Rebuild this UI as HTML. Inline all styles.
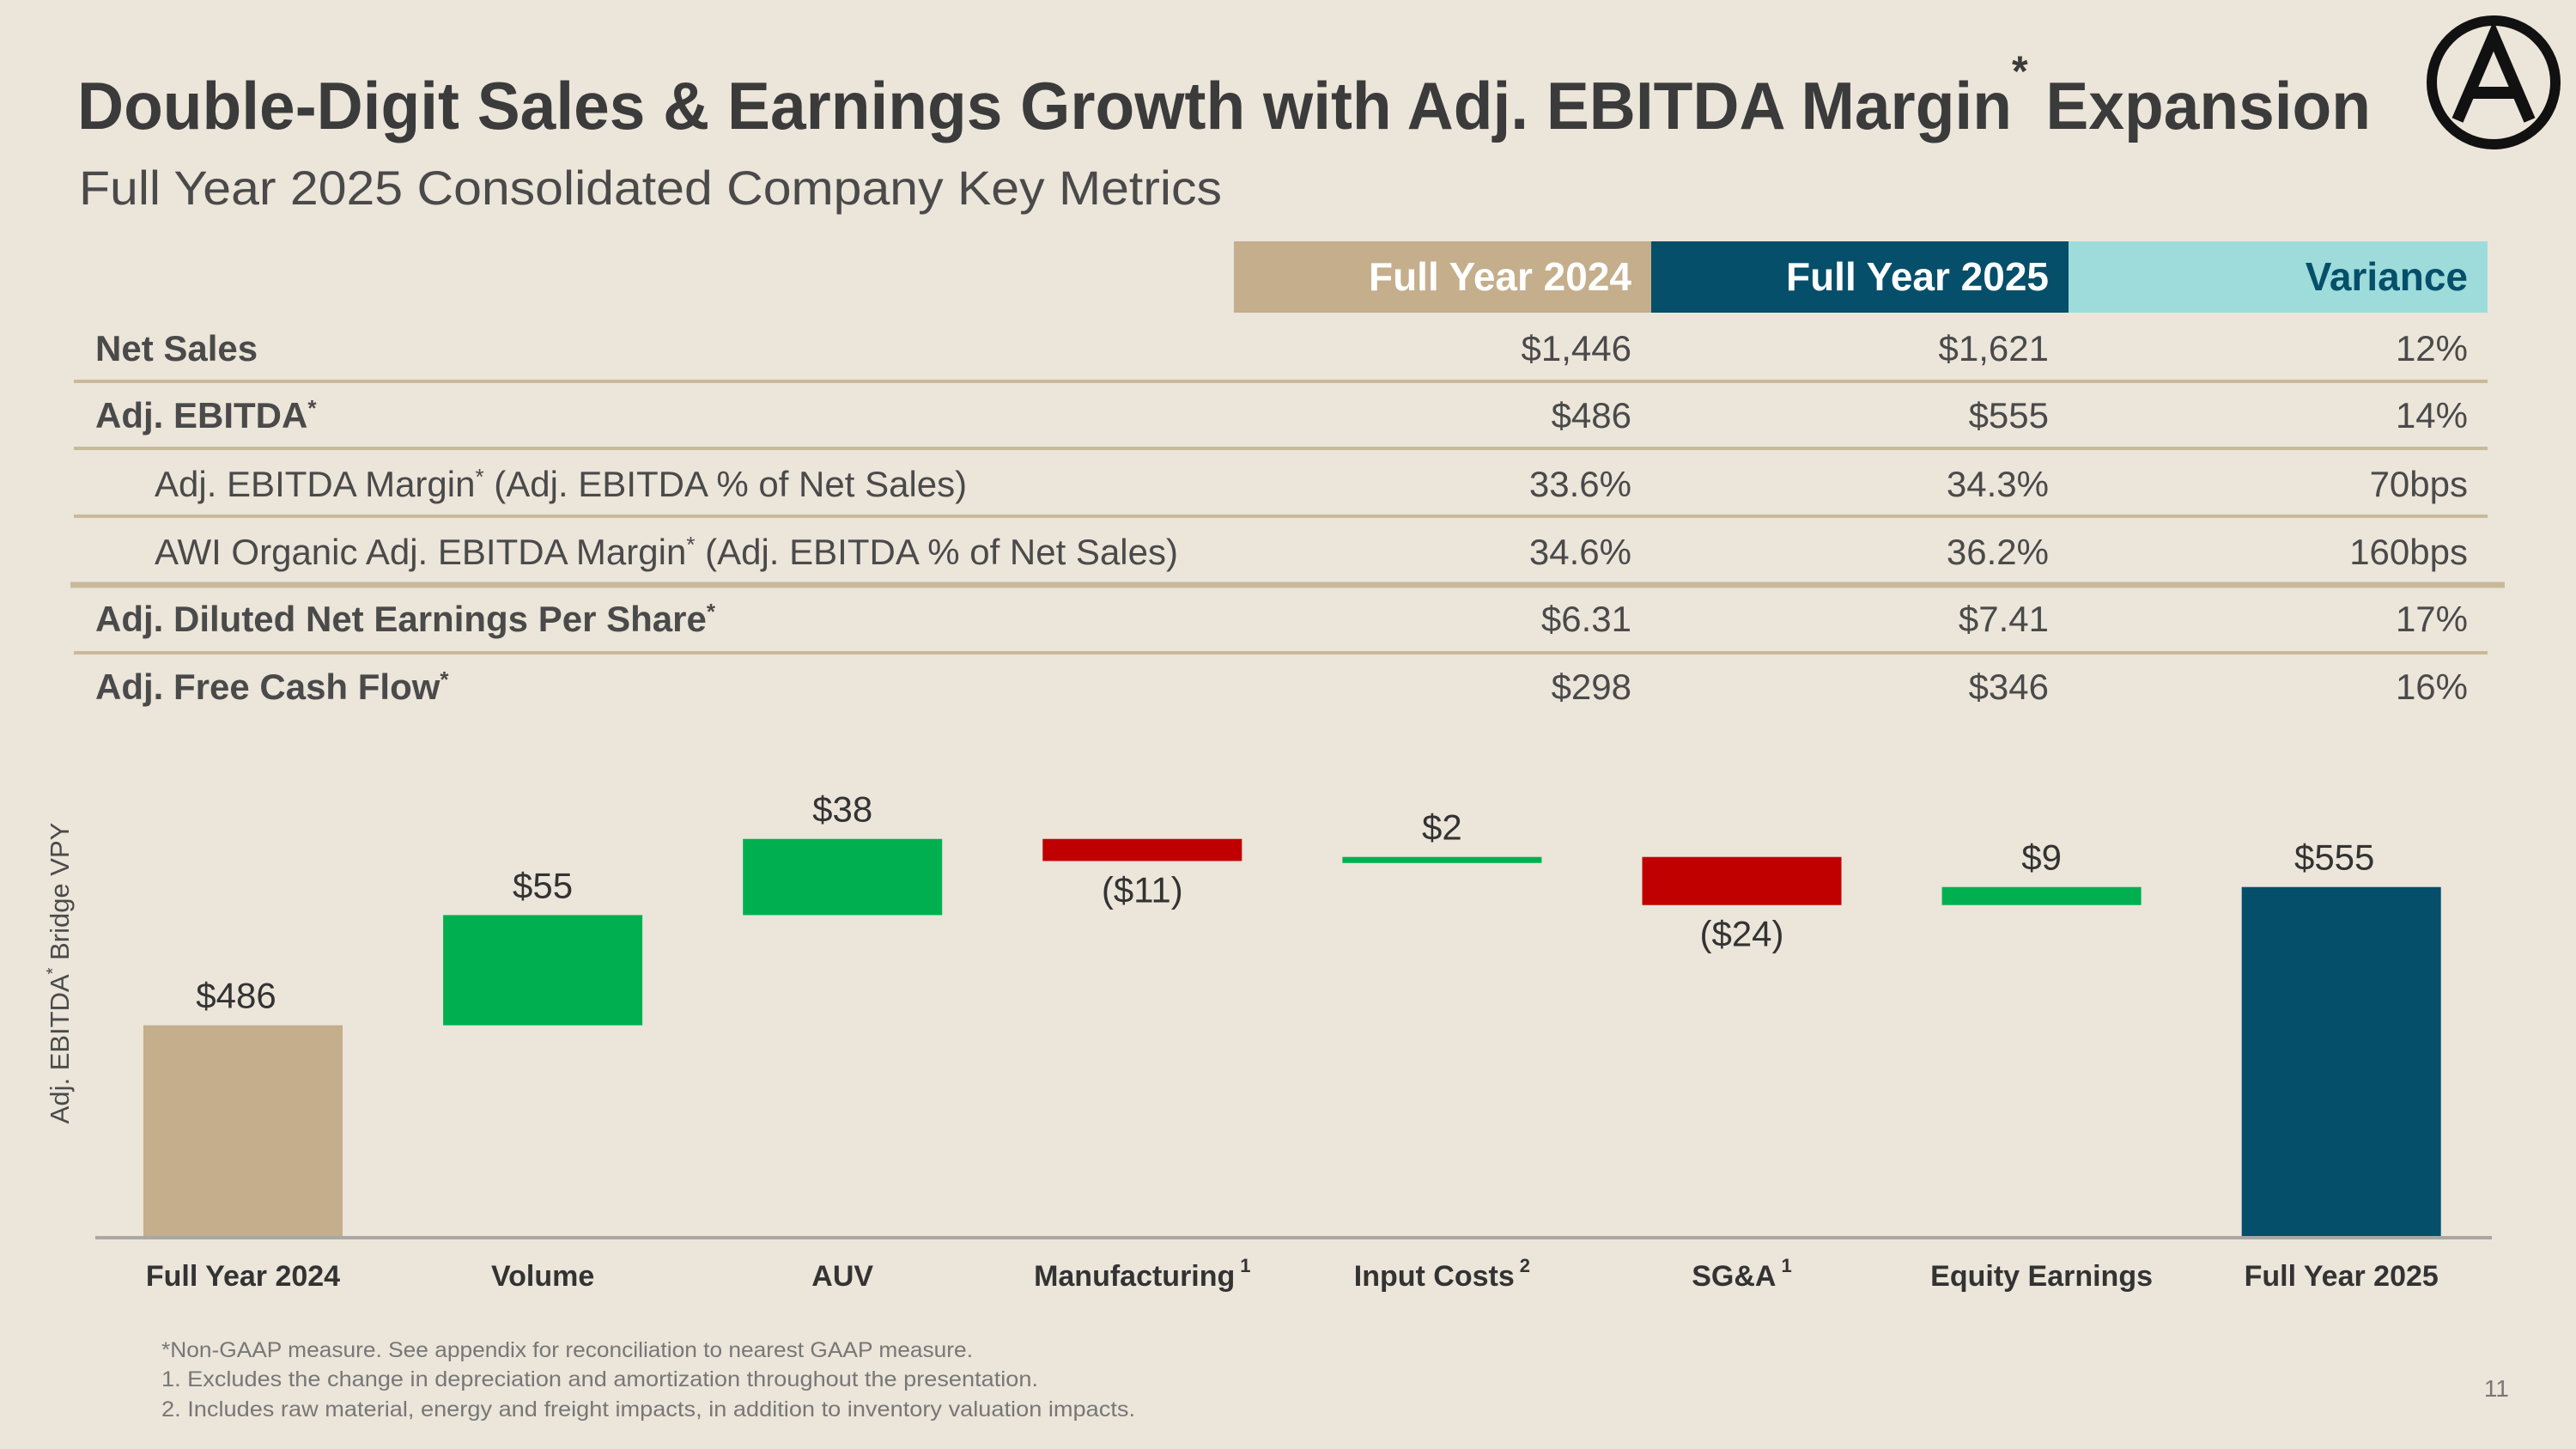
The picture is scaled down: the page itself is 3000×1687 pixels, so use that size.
<!DOCTYPE html>
<html><head><meta charset="utf-8"><style>
html,body{margin:0;padding:0;background:#ebe5da;}
svg{display:block;font-family:"Liberation Sans",sans-serif;}
</style></head><body>
<svg id="s" width="3000" height="1687" viewBox="0 0 3000 1687" xmlns="http://www.w3.org/2000/svg">
<rect width="3000" height="1687" fill="#ebe5da"/>
<text x="90" y="150" font-size="78" font-weight="bold" fill="#3b3b3b" textLength="2671" lengthAdjust="spacingAndGlyphs">Double-Digit Sales &amp; Earnings Growth with Adj. EBITDA Margin<tspan font-size="50" dy="-50">*</tspan><tspan dy="50"> Expansion</tspan></text>
<text x="92" y="238" font-size="56" fill="#4a4a4a" textLength="1331" lengthAdjust="spacingAndGlyphs">Full Year 2025 Consolidated Company Key Metrics</text>
<g>
<circle cx="2904" cy="96" r="72" fill="none" stroke="#111" stroke-width="12"/>
<path d="M2862 140 L2904 42 L2946 140 M2876 108 L2932 108" fill="none" stroke="#111" stroke-width="14"/>
</g>
<g>
<rect x="1437" y="281" width="486" height="83" fill="#c4ae8b"/>
<rect x="1923" y="281" width="486" height="83" fill="#054f6a"/>
<rect x="2409" y="281" width="488" height="83" fill="#9ddcdb"/>
<g font-size="46" font-weight="bold" text-anchor="end">
<text x="1900" y="338" fill="#fff">Full Year 2024</text>
<text x="2386" y="338" fill="#fff">Full Year 2025</text>
<text x="2874" y="338" fill="#054f6a">Variance</text>
</g>
<g id="rows" font-size="42" fill="#4a4a4a"></g>
<g stroke="#c9b99b" stroke-width="4">
<line x1="86" y1="444" x2="2897" y2="444"/><line x1="86" y1="522" x2="2897" y2="522"/>
<line x1="86" y1="601" x2="2897" y2="601"/><line x1="82" y1="681" x2="2917" y2="681" stroke-width="7"/>
<line x1="86" y1="760" x2="2897" y2="760"/>
</g>
</g>
<text transform="translate(80,1133) rotate(-90)" text-anchor="middle" font-size="31" fill="#4a4a4a">Adj. EBITDA<tspan font-size="20" dy="-12">*</tspan><tspan dy="12"> Bridge VPY</tspan></text>
<g id="chart"></g>
<g font-size="25" fill="#777">
<text x="188" y="1580" textLength="945" lengthAdjust="spacingAndGlyphs">*Non-GAAP measure. See appendix for reconciliation to nearest GAAP measure.</text>
<text x="188" y="1614" textLength="1021" lengthAdjust="spacingAndGlyphs">1. Excludes the change in depreciation and amortization throughout the presentation.</text>
<text x="188" y="1649" textLength="1134" lengthAdjust="spacingAndGlyphs">2. Includes raw material, energy and freight impacts, in addition to inventory valuation impacts.</text>
</g>
<text x="2922" y="1626" text-anchor="end" font-size="28" fill="#777">11</text>
</svg>
<script>
const rowLabels=["Net Sales","Adj. EBITDA*","Adj. EBITDA Margin* (Adj. EBITDA % of Net Sales)","AWI Organic Adj. EBITDA Margin* (Adj. EBITDA % of Net Sales)","Adj. Diluted Net Earnings Per Share*","Adj. Free Cash Flow*"];
const fy24=["$1,446","$486","33.6%","34.6%","$6.31","$298"];
const fy25=["$1,621","$555","34.3%","36.2%","$7.41","$346"];
const variance=["12%","14%","70bps","160bps","17%","16%"];
const categories=["Full Year 2024","Volume","AUV","Manufacturing","Input Costs","SG&A","Equity Earnings","Full Year 2025"];
const catSup=["","","","1","2","1","",""];
const startValue=486;
const deltas=[55,38,-11,2,-24,9];
const endValue=555;

const NS="http://www.w3.org/2000/svg";
function mk(tag,attrs,parent){const e=document.createElementNS(NS,tag);for(const k in attrs)e.setAttribute(k,attrs[k]);parent.appendChild(e);return e;}
const rows=document.getElementById('rows');
const rowY=[420,498,578,657,735,814];
rowLabels.forEach((l,i)=>{
  const bold=!(i===2||i===3);
  const t=mk('text',{x:bold?111:180,y:rowY[i],'font-weight':bold?'bold':'normal'},rows);
  
  
  const parts=l.split('*');
  parts.forEach((p,j)=>{
    const attrs=j>0?{dy:'14'}:{};
    if(p){const s=mk('tspan',attrs,t);s.textContent=p;}
    if(j<parts.length-1){const a=mk('tspan',{'font-size':'26',dy:'-14'},t);a.textContent='*';}
  });
  [[fy24,1900],[fy25,2386],[variance,2874]].forEach(([arr,x])=>{
    const v=mk('text',{x:x,y:rowY[i],'text-anchor':'end'},rows);
    
    
    v.textContent=arr[i];
  });
});
const chart=document.getElementById('chart');
const base=1441,k=2.333,v0=380;
function y(v){return base-(v-v0)*k;}
const cx0=283,step=349.1,bw=232;
function cx(i){return cx0+i*step;}
const fmt=d=>d<0?"($"+(-d)+")":"$"+d;
function bar(i,top,bot,fill){const r=mk('rect',{x:cx(i)-bw/2,y:top,width:bw,height:Math.max(bot-top,7),fill:fill},chart);return r;}
let r=bar(0,y(startValue),base,'#c4ae8b');


let lab=mk('text',{x:cx(0)-8,y:y(startValue)-20,'text-anchor':'middle','font-size':'42',fill:'#333'},chart);


lab.textContent=fmt(startValue);
let run=startValue;
deltas.forEach((d,j)=>{
  const i=j+1;const a=run,b=run+d;run=b;
  const top=y(Math.max(a,b)),bot=y(Math.min(a,b));
  const rr=bar(i,top,bot,d>=0?'#00b050':'#c00000');
  
  
  const t=mk('text',{x:cx(i),y:d>=0?top-20:Math.max(bot,top+7)+48,'text-anchor':'middle','font-size':'42',fill:'#333'},chart);
  
  
  t.textContent=fmt(d);
});
r=bar(7,y(endValue),base,'#054f6a');


lab=mk('text',{x:cx(7)-8,y:y(endValue)-20,'text-anchor':'middle','font-size':'42',fill:'#333'},chart);


lab.textContent=fmt(endValue);
const ax=mk('line',{x1:111,y1:base,x2:2902,y2:base,stroke:'#a8a8a4','stroke-width':4},chart);


categories.forEach((c,i)=>{
  const t=mk('text',{x:cx(i),y:1497,'text-anchor':'middle','font-size':'34','font-weight':'bold',fill:'#333'},chart);
  
  
  t.textContent=c;
  if(catSup[i]){const s=mk('tspan',{'font-size':'22',dy:'-16',dx:'6'},t);s.textContent=catSup[i];}
});
</script>
</body></html>
